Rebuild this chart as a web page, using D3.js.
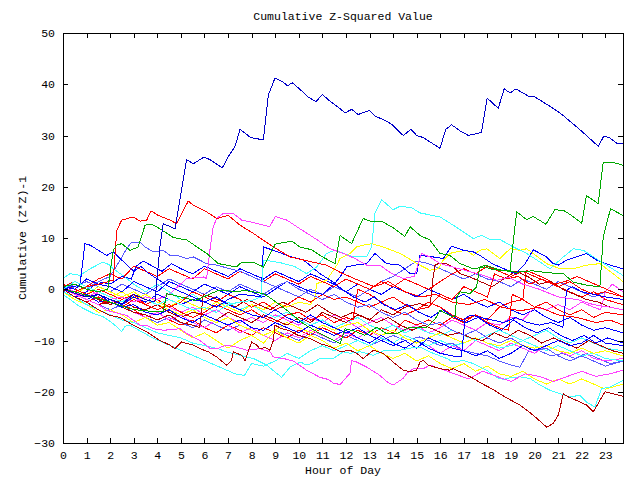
<!DOCTYPE html>
<html>
<head>
<meta charset="utf-8">
<script src="https://cdn.jsdelivr.net/npm/d3@7"></script>
<style>
  html, body { margin: 0; padding: 0; background: #fff; }
  svg { display: block; }
  text { font-family: "Liberation Mono", "DejaVu Sans Mono", monospace; font-size: 11.5px; fill: #000; }
</style>
</head>
<body>
<svg id="chart" width="640" height="480"></svg>
<script>
// ---- Chart text ----
const chartTitle = "Cumulative Z-Squared Value";
const xAxisTitle = "Hour of Day";
const yAxisTitle = "Cumulative (Z*Z)-1";

// ---- Axis ticks ----
const xTickValues = d3.range(0, 24);          // hours 0..23
const yTickValues = [-30, -20, -10, 0, 10, 20, 30, 40, 50];
const xDomain = [0, 23.75];
const yDomain = [-30, 50];

// ---- Series colours ----
const seriesColors = [
  "#0000c8", "#00a800", "#00a800", "#ff0000", "#ff40ff", "#40ffff",
  "#b00000", "#ff40ff", "#40ffff", "#0000ff", "#5858ff", "#0000ff",
  "#0000ff", "#0000ff", "#ff0000", "#ff0000", "#ff0000", "#b00000",
  "#b00000", "#ffff00", "#ffff00", "#ffff00", "#40ffff", "#40ffff",
  "#ff40ff", "#ff40ff", "#ff0000", "#0000ff", "#5858ff", "#5858ff"
];

// ---- Series values: [hour, cumulative value] vertices ----
const s01 = [[0,0],[0.5,-0.8],[1,-1.5],[1.5,-1],[2,-2],[2.5,-2.8],[3,-1],[3.5,-2],[3.9,-2.5],[4.11,8.25],[4.25,12.8],[4.75,11.8],[5.24,25.3],[5.53,24.5],[5.98,25.8],[6.23,25.3],[6.52,24.4],[6.76,23.7],[7.01,25.9],[7.29,27.8],[7.51,31.2],[7.93,29.7],[8.14,29.4],[8.5,29.2],[8.71,37.9],[8.82,39.2],[8.99,41.2],[9.27,40.6],[9.53,39.7],[9.72,40.3],[10.05,39.0],[10.4,37.5],[10.73,36.6],[11.0,38.0],[11.32,36.7],[11.68,35.5],[11.96,34.4],[12.24,35.1],[12.52,34.1],[12.99,34.9],[13.23,33.8],[13.72,32.8],[13.94,32.2],[14.43,30.0],[14.76,31.2],[15.0,30.0],[15.28,29.6],[15.99,27.5],[16.23,31.2],[16.48,32.1],[16.84,30.9],[17.19,30.0],[17.75,30.6],[17.99,37.3],[18.46,35.3],[18.71,39.1],[18.96,38.3],[19.21,39.1],[19.73,37.7],[20.02,37.5],[20.65,35.7],[21.08,34.4],[21.78,31.7],[22.2,30.0],[22.7,27.9],[22.94,29.9],[23.2,29.5],[23.48,28.5],[23.75,28.4]];
const s02 = [[0,0.5],[0.5,1],[1,0],[1.5,-0.5],[1.9,0],[2.13,7.6],[2.28,8.6],[2.49,8.9],[2.84,7.6],[3.19,8.25],[3.48,12.5],[3.76,12.7],[4.11,11.8],[4.68,10.1],[5.25,9.6],[6.09,7.0],[6.59,5.0],[7.36,4.35],[7.58,5.3],[8.07,5.3],[8.5,4.35],[9.0,8.8],[9.7,9.4],[10.05,8.25],[10.55,7.7],[10.97,6.4],[11.54,5.0],[11.75,10.5],[12.24,8.9],[12.73,13.8],[13.02,13.3],[13.51,13.3],[14.0,12.0],[14.5,10.3],[14.72,12.2],[15.14,10.5],[15.56,9.6],[15.99,7.0],[16.41,6.6],[16.84,5.0],[17.4,4.0],[17.89,4.35],[18.1,4.0],[18.53,3.7],[18.96,3.6],[19.24,15.1],[19.66,13.6],[19.94,14.2],[20.48,12.7],[20.86,15.5],[21.22,15.4],[21.57,14.4],[22.0,12.9],[22.2,18.3],[22.7,16.7],[22.91,24.8],[23.3,24.8],[23.75,24.2]];
const s03 = [[0,0],[0.5,-0.5],[1,-1.2],[1.5,-1.8],[2,-2.5],[2.84,-3.8],[3.4,-4.2],[4.25,-4.4],[4.4,-0.85],[5,-1.5],[5.6,-2.2],[6.1,-1.2],[6.6,-0.2],[7.2,-0.4],[7.8,-0.3],[8.5,-0.85],[8.92,-2.1],[9.49,-4.1],[10.19,-6.7],[10.9,-8.65],[11.75,-10.6],[11.96,-7.7],[12.45,-8.3],[12.8,-9.0],[13.3,-7.4],[13.72,-8.65],[14.15,-8.65],[14.72,-7.4],[15.42,-7.5],[15.85,-5.4],[15.99,-4.1],[16.48,-5.3],[16.62,-5.4],[16.7,-1.5],[16.84,-0.5],[17.26,-0.85],[17.54,0.45],[17.68,4.35],[17.9,4.7],[18.5,3.8],[19.2,3.3],[19.9,3.6],[20.6,3.2],[21.22,3.05],[21.64,1.4],[22.2,0.8],[22.77,0.45],[22.91,10.2],[23.22,15.7],[23.75,14.4]];
const s04 = [[0,0],[0.5,-0.5],[1,0.5],[1.5,1],[2.13,1.75],[2.28,11.5],[2.49,13.5],[2.98,14.1],[3.27,13.3],[3.55,13.5],[3.73,15.3],[4.04,14.4],[4.54,13.5],[4.82,12.8],[5.31,17.2],[5.53,16.4],[6.09,15.1],[6.52,13.8],[7.01,14.4],[7.51,12.5],[8.07,10.9],[8.92,8.25],[9.63,6.3],[10.3,5.6],[11.18,4.7],[11.8,3.2],[12.5,1.8],[13.2,0.5],[13.8,1.5],[14.5,-0.5],[15.2,-1.5],[15.8,-1],[16.5,-2.5],[17.2,-3],[17.9,-2],[18.6,-3.5],[19.4,-4.2],[20.2,-3.5],[21,-5],[21.8,-5.5],[22.6,-6.5],[23.2,-6],[23.75,-7]];
const s05 = [[0,0],[0.5,-1],[1,-1.5],[1.5,-1],[2,-2],[2.5,-1.5],[3,-2.5],[3.5,-1.5],[4,-2],[4.54,-0.85],[5.25,2.1],[5.95,2.4],[6.09,2.1],[6.23,7.6],[6.37,12.2],[6.52,13.8],[6.8,14.8],[7.22,14.8],[7.58,13.5],[8.0,13.1],[8.77,12.2],[9.0,14.2],[9.49,13.5],[10.05,11.8],[10.76,9.7],[11.32,7.9],[11.89,7.0],[12.38,6.0],[12.88,4.7],[13.44,4.7],[13.94,3.05],[14.43,2.1],[14.9,2.5],[15.2,7.0],[15.56,6.3],[16,5.0],[16.8,4.0],[17.83,2.7],[18.39,1.75],[18.9,2.3],[19.5,1],[20.2,0],[21,-1.5],[21.8,-2],[22.5,-3],[23.2,-3.5],[23.75,-4]];
const s06 = [[0,0],[0.5,1.5],[1,0.5],[1.5,-0.5],[2,-1.5],[2.5,-2.5],[3,-1],[3.5,-2],[4,-3],[4.5,-2],[5,-3],[5.5,-4],[6,-3.5],[6.5,-4.5],[7,-3],[7.5,-2.5],[8.0,-2.2],[8.4,-1.5],[8.5,5.7],[9.2,5.2],[9.8,4.5],[10.33,3.05],[10.76,4.35],[11.18,7.0],[11.54,7.6],[12.31,6.3],[12.88,6.4],[13.09,8.25],[13.23,14.8],[13.51,17.5],[14.0,15.5],[14.29,16.2],[14.79,15.9],[15.14,14.9],[15.99,14.1],[16.55,12.5],[17.4,9.9],[17.75,10.5],[18.1,9.7],[18.53,9.7],[19.1,8.25],[19.66,7.0],[20.23,5.3],[20.65,4.0],[21.22,6.3],[21.64,7.9],[22.07,7.6],[22.84,5.3],[23.75,2.7]];
const s07 = [[0,0],[0.5,-1.5],[1,-2.5],[1.5,-4],[2.0,-5.1],[2.42,-5.5],[2.98,-7.0],[3.55,-8.3],[4.11,-10.0],[4.54,-10.9],[4.75,-11.6],[5.03,-10.3],[5.25,-10.6],[5.53,-10.9],[5.81,-11.6],[6.16,-12.2],[6.52,-13.2],[6.94,-14.8],[7.15,-13.9],[7.22,-12.2],[7.58,-12.9],[7.72,-13.9],[8.0,-10.3],[8.21,-10.9],[8.35,-11.6],[8.57,-11.4],[8.78,-11.9],[8.92,-10.0],[8.99,-7.0],[9.27,-7.7],[9.55,-8.0],[9.98,-9.0],[10.47,-9.6],[10.9,-10.6],[11.4,-11.3],[11.75,-12.2],[12.17,-11.9],[12.45,-12.5],[12.73,-13.5],[13.16,-11.9],[13.58,-12.5],[14.0,-14.2],[14.43,-15.8],[14.72,-16.1],[15.0,-15.8],[15.14,-14.2],[15.28,-13.9],[15.49,-14.8],[15.99,-15.5],[16.41,-15.8],[16.55,-15.5],[16.98,-16.4],[17.4,-17.4],[17.76,-18.4],[18.18,-19.4],[18.74,-21.0],[19.38,-22.6],[19.95,-24.6],[20.51,-26.9],[20.79,-26.2],[21.0,-24.6],[21.22,-20.4],[21.43,-21.0],[21.78,-21.7],[22.21,-22.6],[22.49,-23.9],[22.77,-21.7],[22.99,-20.0],[23.34,-20.4],[23.75,-20.9]];
const s08 = [[0,0],[0.5,-1],[1,-2],[1.5,-3],[1.85,-4.1],[2.7,-5.1],[3.27,-7.0],[3.55,-7.0],[3.83,-7.7],[4.25,-8.0],[4.54,-7.9],[4.96,-7.7],[5.25,-8.65],[5.81,-10.0],[6.23,-11.5],[6.52,-11.6],[6.94,-10.9],[7.36,-11.3],[7.79,-11.9],[8.35,-11.6],[8.78,-12.2],[8.92,-13.2],[9.34,-13.5],[9.77,-14.0],[10.33,-15.8],[10.9,-17.2],[11.25,-17.6],[11.46,-18.3],[11.75,-18.6],[12.17,-16.4],[12.24,-13.9],[12.45,-14.2],[12.88,-15.2],[13.44,-16.8],[13.72,-18.0],[14.0,-18.7],[14.43,-17.4],[14.58,-16.4],[14.86,-15.5],[15.28,-15.5],[15.56,-14.8],[16.0,-15.5],[16.6,-16.5],[17.2,-17.5],[17.8,-16.0],[18.4,-17.0],[19.0,-18.0],[19.6,-16.5],[20.2,-17.0],[20.8,-18.0],[21.4,-17.0],[22.0,-16.0],[22.6,-17.0],[23.2,-16.5],[23.75,-15.8]];
const s09 = [[0,-0.5],[0.5,-1.5],[1,-3],[1.5,-4],[2,-5],[2.5,-6],[3,-6.5],[3.5,-7.5],[4,-8.5],[4.5,-9],[5,-9.5],[5.5,-10.5],[6,-11],[6.5,-11.5],[7,-12.3],[7.51,-12.9],[8.07,-13.5],[8.64,-14.8],[9.27,-17.2],[9.63,-15.2],[9.91,-14.5],[10.12,-14.2],[10.26,-14.8],[10.55,-14.5],[10.9,-13.5],[11.46,-13.5],[11.89,-12.2],[12.17,-12.5],[12.6,-12.2],[13.16,-12.9],[13.65,-11.9],[14.2,-12.0],[14.7,-11.5],[15.14,-11.3],[15.7,-12.5],[16.27,-13.5],[16.55,-14.2],[16.98,-13.9],[17.4,-14.5],[17.97,-15.8],[18.39,-17.2],[18.67,-17.6],[19.03,-17.2],[19.38,-17.1],[19.8,-17.4],[20.23,-18.7],[20.65,-19.7],[21.08,-20.4],[21.5,-21.0],[21.92,-20.7],[22.2,-22.0],[22.56,-23.0],[22.84,-19.4],[23.2,-19.1],[23.75,-17.8]];
const s10 = [[0,0],[0.4,0.5],[0.72,0.8],[0.93,8.9],[1.15,8.6],[1.5,7.6],[1.85,6.6],[2.13,7.3],[2.35,6.3],[2.7,4.8],[3.0,3.5],[3.3,4.5],[3.6,3.2],[4.0,2],[4.5,0.5],[5,-0.5],[5.5,-1.5],[6,-2.5],[6.5,-1.5],[7,-3],[7.5,-4],[8,-5],[8.5,-5.5],[9,-4],[9.5,-5.5],[10,-6.5],[10.5,-5],[11,-6.5],[11.5,-7.5],[12,-8.5],[12.5,-7.5],[13,-9],[13.5,-10],[14,-11],[14.5,-10],[15,-11.5],[15.5,-9.5],[16,-10.5],[16.5,-11.5],[17,-12],[17.5,-13],[18,-12],[18.5,-13.5],[19,-12.5],[19.5,-11],[20,-12],[20.5,-11],[21,-10],[21.5,-11],[22,-10.5],[22.5,-9],[23,-10.5],[23.75,-11]];
const s11 = [[0,0],[0.5,1],[1,0],[1.5,1.5],[2,2.5],[2.42,5.7],[2.7,7.9],[2.91,9.2],[3.27,9.2],[3.48,8.25],[3.83,7.3],[4.25,7.6],[4.54,6.6],[4.82,6.6],[5.25,6.0],[5.53,6.3],[6.09,5.0],[6.52,4.7],[7.08,4.0],[7.58,3.4],[8,2.5],[8.5,1.5],[9,0.5],[9.5,1.5],[10,0],[10.5,-1],[11,-2],[11.5,-1],[12,-2.5],[12.5,-3.5],[13,-3],[13.5,-4.5],[14,-5.5],[14.5,-4.5],[15,-6],[15.5,-7],[16,-6.5],[16.5,-8],[17,-9],[17.5,-8],[18,-9.5],[18.5,-10.5],[19,-9.5],[19.5,-11],[20,-12],[20.5,-11.5],[21,-13],[21.5,-14],[22,-13],[22.5,-14],[23,-15],[23.75,-14]];
const s12 = [[0,-0.5],[0.5,-1.5],[1,-1],[1.5,-2.5],[2,-2],[2.5,-3],[3,-1.5],[3.5,-2.5],[4,-1],[4.5,-2],[5,-3],[5.5,-2],[6,-2.5],[6.5,-3.5],[7,-2],[7.5,-1],[8,-1.2],[8.4,-1.5],[8.5,8.25],[8.92,7.6],[9.63,6.4],[10.19,5.7],[10.47,4.7],[10.9,3.05],[11.46,1.4],[11.89,-0.2],[12.31,-1.5],[12.8,-2.5],[13.2,-1.5],[13.6,-3],[14.1,-4],[14.6,-3],[15.1,-4.5],[15.6,-5.5],[16.1,-4],[16.6,-5.5],[17.1,-6.5],[17.6,-5.5],[18.1,-7],[18.6,-8],[19.1,-6],[19.6,-7.5],[20.1,-8.5],[20.6,-7.5],[21.1,-9],[21.6,-10],[22.1,-9],[22.6,-10.5],[23.1,-9.5],[23.75,-10.5]];
const s13 = [[0,0.5],[0.5,0],[1,2],[1.5,1],[2,0.5],[2.5,-0.5],[3,1.5],[3.5,0.5],[4,-0.5],[4.5,1.5],[5,0.5],[5.5,-0.5],[6,1],[6.5,0],[7,-1],[7.5,0.5],[8,-0.5],[8.5,-1.5],[9,0],[9.5,1.5],[10,0.5],[10.5,-0.5],[11,-1],[11.5,1],[11.75,2.4],[12.03,4.35],[12.38,4.7],[12.88,5.0],[13.23,7.0],[13.72,5.0],[14.29,4.7],[14.72,3.05],[15.0,3.0],[15.14,6.6],[15.7,6.3],[16.13,6.0],[16.48,8.4],[16.98,7.6],[17.4,7.3],[17.68,6.6],[18.2,5],[18.7,4],[19.2,3],[19.6,5],[19.94,7.7],[20.23,7.0],[20.51,6.3],[20.79,5.0],[21.0,4.7],[21.36,5.7],[21.78,6.3],[22.2,7.0],[22.63,5.7],[23.2,4.7],[23.75,4.0]];
const s14 = [[0,0],[0.5,-1],[1,-2],[1.5,-1],[2,-2.5],[2.5,-3.5],[3,-3],[3.5,-4.5],[4,-5],[4.5,-4],[5,-5.5],[5.5,-6.5],[6,-5],[6.5,-6],[7,-7],[7.5,-6],[8,-7.5],[8.5,-8],[9,-6.5],[9.5,-7.5],[10,-8.5],[10.5,-7],[11,-8],[11.5,-9],[12,-8],[12.5,-9.5],[13,-10.5],[13.5,-9],[14,-10.5],[14.5,-11.5],[15,-10],[15.5,-11.5],[16,-12.5],[16.5,-13],[16.9,-13.2],[17.05,-5.7],[17.3,-5],[17.7,-5.5],[18.2,-6],[18.7,-6.5],[19.2,-5.5],[19.7,-6.5],[20.2,-7],[20.7,-6.5],[21.2,-7.4],[21.36,-0.2],[21.6,0.5],[22,-0.5],[22.5,-1],[23,-1.5],[23.75,-2]];
const s15 = [[0,1],[0.5,0],[1,-1],[1.5,0],[2,-1],[2.5,-2],[3,-1],[3.5,-3],[4,-2],[4.5,-3.5],[5,-2.5],[5.5,-0.5],[6,-1.5],[6.5,-2.5],[7,-1],[7.5,-2],[8,-3.5],[8.5,-2.5],[9,-4],[9.5,-3],[10,-1.5],[10.5,-2.5],[11,-1],[11.5,-2],[12,-1.5],[12.5,-2.5],[13,-3.5],[13.5,-2.5],[14,-4],[14.5,-5],[15,-4],[15.5,-3.5],[16,-1],[16.5,-2],[17,0.5],[17.5,-0.5],[18,-1.5],[18.3,3],[18.8,2],[19.3,2.5],[19.8,1],[20.3,2],[20.8,1],[21.3,1.5],[21.8,2.5],[22.3,1.5],[22.8,0.5],[23.3,-0.5],[23.75,-1.5]];
const s16 = [[0,0.5],[0.5,1.5],[1,0.5],[1.5,2],[2,3],[2.5,2],[3,4.5],[3.5,3.5],[4,2.5],[4.5,4],[5,3],[5.5,2],[6,4],[6.5,3],[7,2],[7.5,3.5],[8,2.5],[8.5,1.5],[9,3],[9.5,2],[10,1],[10.5,2.5],[11,1.5],[11.5,0.5],[12,2],[12.5,1],[13,0],[13.5,1.5],[14,0.5],[14.5,2],[15,1],[15.5,0],[16,1.5],[16.5,3],[17,4],[17.5,3],[18,4.5],[18.5,3.5],[19,2.5],[19.5,3.5],[20,2.5],[20.5,1.5],[21,0.5],[21.5,1.5],[22,0],[22.5,-1],[23,-0.5],[23.75,-1.5]];
const s17 = [[0,-0.5],[0.5,-1.5],[1,-2.5],[1.5,-1.5],[2,-2.5],[2.5,-3.5],[3,-2],[3.5,-3],[4,-4],[4.5,-3],[5,-4.5],[5.5,-5.5],[6,-4.5],[6.5,-3],[7,-4],[7.5,-5],[8,-4],[8.5,-5.5],[9,-6.5],[9.5,-5],[10,-4.5],[10.5,-6],[11,-5],[11.5,-6.5],[12,-5.5],[12.3,-6],[12.5,0],[13,-1],[13.5,-2.5],[14,-1.5],[14.5,-3],[15,-4],[15.5,-2.5],[16,-3.5],[16.5,-5],[17,-6],[17.5,-5],[18,-6.5],[18.5,-7.5],[18.9,-8],[19.05,-1],[19.5,-2],[20,-3.5],[20.5,-2.5],[21,-4],[21.5,-5],[22,-4],[22.5,-5.5],[23,-4.5],[23.75,-5]];
const s18 = [[0,-0.5],[0.5,-1.5],[1,-1],[1.5,-2],[2,-3],[2.5,-2],[3,-3.5],[3.5,-4],[4,-3],[4.5,-4.5],[5,-5.5],[5.5,-4.5],[6,-5],[6.5,-6],[7,-4.5],[7.5,-5.5],[8,-6.5],[8.5,-5],[9,-6],[9.5,-7],[10,-5.5],[10.5,-6.5],[11,-4.5],[11.5,-5.5],[12,-6.5],[12.5,-5],[13,-6],[13.5,-4],[14,-5],[14.5,-3.5],[15.14,-2.8],[15.56,-3.4],[15.7,2.4],[15.78,4.7],[15.92,5.0],[16.27,5.0],[16.55,4.35],[16.84,3.05],[17.26,2.4],[17.7,1.5],[18.2,0.5],[18.7,2],[19.2,3.5],[19.7,2.5],[20.2,1],[20.7,1.5],[21.2,0],[21.7,-1],[22.2,-2],[22.7,-2.5],[23.2,-3.5],[23.75,-4]];
const s19 = [[0,0],[0.5,-1],[1,-2],[1.5,-3],[2,-2.5],[2.5,-3.5],[3,-4.5],[3.5,-5],[4,-6],[4.5,-5],[5,-6.5],[5.5,-7],[5.8,-7.5],[5.95,-1],[6.3,-1.5],[6.8,-2.5],[7.3,-3.5],[7.8,-2],[8.3,-3],[8.8,-4],[9.3,-2.5],[9.8,-3.5],[10.3,-4.5],[10.8,-3],[11.3,-4.5],[11.8,-5.5],[12.3,-4.5],[12.8,-5.5],[13.3,-6.5],[13.8,-5.5],[14.3,-7],[14.8,-8],[15.3,-7],[15.8,-8],[16.3,-9],[16.8,-8.5],[17.3,-9.5],[17.8,-10],[18.3,-8.5],[18.8,-9.5],[19.3,-8],[19.8,-9],[20.3,-10.5],[20.8,-9.5],[21.3,-10.5],[21.8,-11.5],[22.3,-10],[22.8,-11],[23.3,-12],[23.75,-12.5]];
const s20 = [[0,0],[0.5,-1],[1,0.5],[1.5,-0.5],[2,-1.5],[2.5,-0.5],[3,-2],[3.5,-1],[4,-2.5],[4.5,-3.5],[5,-2],[5.5,-3],[6,-4],[6.5,-2.5],[7,-3.5],[7.5,-4.5],[8,-3],[8.5,-4],[9,-2.5],[9.5,-3.5],[10,-2.5],[10.5,-3],[10.69,-1.5],[10.76,1.1],[11.18,1.75],[11.61,4.7],[11.75,6.0],[12.17,7.0],[12.45,8.25],[12.73,8.6],[13.09,8.9],[13.58,8.25],[14.29,7.0],[15.14,4.7],[15.56,3.7],[15.92,4.0],[16.13,5.7],[16.41,7.0],[16.69,7.3],[17.12,7.6],[17.4,6.6],[17.68,7.6],[17.97,7.9],[18.53,6.0],[18.96,7.9],[19.38,7.6],[19.66,7.9],[19.94,7.0],[20.51,5.0],[21.08,4.0],[21.64,4.0],[22.2,4.7],[22.77,5.0],[23.2,3.5],[23.75,1.5]];
const s21 = [[0,-0.5],[0.5,-2],[1,-3],[1.5,-4.5],[2,-4],[2.5,-5],[3,-6.5],[3.5,-5.5],[4,-7],[4.5,-6.5],[5,-8],[5.5,-9.5],[6,-8.5],[6.5,-10],[7,-11.5],[7.5,-10],[8,-9],[8.5,-10.5],[9,-8],[9.5,-9.5],[10,-10.5],[10.5,-9],[11,-10],[11.5,-11.5],[12,-10.5],[12.5,-12],[13,-11],[13.5,-12.5],[14,-13.5],[14.5,-12.5],[15,-14],[15.5,-13],[16,-14.5],[16.5,-15.5],[17,-14.5],[17.5,-16],[18,-15],[18.5,-16.5],[19,-17],[19.5,-16],[20,-17.5],[20.5,-18.5],[21,-17.5],[21.5,-18.5],[22,-17.5],[22.5,-18.5],[23,-19.5],[23.75,-18.5]];
const s22 = [[0,1],[0.5,0],[1,-1],[1.5,0.5],[2,-0.5],[2.5,-1.5],[3,-0.5],[3.5,-2],[4,-3],[4.5,-4],[5,-5],[5.5,-4],[6,-5.5],[6.5,-6.5],[7,-5.5],[7.5,-7],[8,-8],[8.5,-9],[9,-8],[9.5,-6.5],[10,-7.5],[10.5,-8.5],[11,-7],[11.5,-8],[12,-7],[12.5,-6.5],[13,-8],[13.5,-9],[14,-8],[14.5,-9.5],[15,-10.5],[15.5,-9.5],[16,-8.5],[16.5,-9.5],[17,-10.5],[17.5,-9.5],[18,-10.5],[18.5,-11],[19,-10],[19.5,-11],[20,-11.5],[20.5,-11],[21,-12],[21.5,-12.5],[22,-11.5],[22.5,-12.5],[23,-12],[23.75,-13]];
const s23 = [[0,-1],[0.3,-2],[0.72,-3.4],[1.28,-4.7],[1.71,-5.4],[2.13,-6.7],[2.49,-8.3],[2.63,-7.2],[2.84,-7.0],[3.3,-8.2],[3.8,-9.5],[4.3,-10.5],[4.8,-11.5],[5.3,-12.5],[5.8,-13.5],[6.3,-14.5],[6.8,-15.5],[7.3,-16.5],[7.7,-16.8],[8.0,-14.5],[8.5,-15],[9,-14],[9.5,-12.5],[10,-13.5],[10.5,-12],[11,-11],[11.5,-12],[12,-11],[12.5,-10],[13,-11],[13.5,-9.5],[14,-10.5],[14.5,-9],[15,-10],[15.5,-11],[16,-10],[16.5,-11],[17,-10.5],[17.5,-9.5],[18,-10.5],[18.5,-11.5],[19,-11],[19.5,-10],[20,-11],[20.5,-12],[21,-11],[21.5,-12],[22,-13],[22.5,-12.5],[23,-13.5],[23.75,-14]];
const s24 = [[0,2.1],[0.3,3.05],[0.72,2.7],[1.15,4.0],[1.57,5.0],[1.71,5.3],[1.99,4.7],[2.13,4.0],[2.6,2.5],[3,1],[3.5,-0.5],[4,1],[4.5,-0.5],[5,-2],[5.5,-1],[6,-2.5],[6.5,-3.5],[7,-2.5],[7.5,-4],[8,-3],[8.5,-4.5],[9,-5.5],[9.5,-4.5],[10,-6],[10.5,-7],[11,-6],[11.5,-7.5],[12,-6.5],[12.5,-5.5],[13,-7],[13.5,-8],[14,-7],[14.5,-8.5],[15,-7.5],[15.5,-8.5],[16,-9],[16.5,-8],[17,-9],[17.5,-10],[18,-9],[18.5,-8],[19,-9],[19.5,-10],[20,-9],[20.5,-8],[21,-9.5],[21.5,-10.5],[22,-9.5],[22.5,-10.5],[23,-11.5],[23.75,-12]];
const s25 = [[0,0],[0.5,1],[1,0],[1.5,-1],[2,-2],[2.5,-3.5],[3,-4.5],[3.5,-5.5],[4,-4.5],[4.5,-6],[5,-5],[5.5,-6.5],[6,-7.5],[6.5,-6],[7,-7],[7.5,-8.5],[8,-7.5],[8.5,-9],[9,-10],[9.5,-8.5],[10,-9.5],[10.5,-8],[11,-9],[11.5,-10],[12,-8.5],[12.5,-9.5],[13,-8],[13.5,-9.5],[14,-10.5],[14.5,-11.5],[15,-10],[15.5,-11],[16,-12.5],[16.5,-11],[17,-12],[17.5,-10],[18,-11],[18.5,-12],[19,-10.5],[19.5,-11.5],[20,-12.5],[20.5,-11],[21,-12],[21.5,-13],[22,-12],[22.5,-13.5],[23,-14],[23.75,-13.5]];
const s26 = [[0,0.5],[0.5,-0.5],[1,-1.5],[1.5,-0.5],[2,-1.5],[2.5,-2.5],[3,-1.5],[3.5,-3],[4,-2],[4.5,-3.5],[5,-4.5],[5.5,-3.5],[6,-5],[6.5,-4],[7,-5.5],[7.5,-6.5],[8,-5.5],[8.5,-6.5],[9,-5],[9.5,-6],[10,-7],[10.5,-5.5],[11,-6.5],[11.5,-5],[12,-6],[12.5,-7.5],[13,-6.5],[13.5,-5.5],[14,-7],[14.5,-8],[15,-7],[15.5,-8.5],[16,-7.5],[16.5,-6],[17,-7],[17.5,-8],[18,-6.5],[18.5,-7],[19,-5.5],[19.5,-6],[20,-3.5],[20.5,-4],[21,-3],[21.5,-4],[22,-2.5],[22.5,-3.5],[22.8,-4],[23,-0.5],[23.3,1],[23.75,-0.5]];
const s27 = [[0,0],[0.5,-1],[1,-2],[1.5,-3],[2,-2],[2.5,-3],[3,-4],[3.5,-5.5],[4,-4.5],[4.5,-6],[5,-7],[5.5,-6],[6,-7.5],[6.5,-8.5],[7,-7],[7.5,-8],[8,-9],[8.5,-7.5],[9,-8.5],[9.5,-9.5],[10,-8],[10.5,-9],[11,-7.5],[11.5,-8.5],[12,-9.5],[12.5,-8],[13,-9],[13.5,-7.5],[14,-8.5],[14.5,-6],[15,-7],[15.5,-6],[16,-7],[16.5,-5.5],[17,-6.5],[17.5,-5],[18,-6],[18.5,-3.5],[19,-2.5],[19.5,-2],[19.65,3.7],[20,3],[20.5,2],[21,0.5],[21.5,-0.5],[22,-1.5],[22.5,-0.5],[23,-2],[23.75,-3]];
const s28 = [[0,0],[0.5,-1],[1,-0.5],[1.5,1.5],[2,1],[2.5,2.5],[2.9,2],[3.1,4.5],[3.4,5.5],[3.8,4.5],[4.2,3.5],[4.6,5],[5.0,4],[5.5,3],[6,4.5],[6.5,3.5],[7,2.5],[7.5,4],[8,3],[8.5,2],[9,3.5],[9.5,2.5],[10,1.5],[10.5,3],[11,2],[11.5,1],[12,-0.5],[12.5,1],[13,0],[13.5,-1],[14,0.5],[14.5,-0.5],[15,-1.5],[15.5,0],[16,-1],[16.5,-2],[17,-1],[17.5,-2.5],[18,-3.5],[18.5,-2.5],[19,-4],[19.5,-5],[20,-4],[20.5,-5.5],[21,-6.5],[21.5,-5.5],[22,-7],[22.5,-8],[23,-7.5],[23.75,-8.5]];
const s29 = [[0,0],[0.5,-1],[1,-2],[1.5,-3],[2,-4],[2.5,-3],[3,-4.5],[3.5,-5.5],[4,-6.5],[4.5,-5.5],[5,-6.5],[5.5,-7.5],[6,-6],[6.5,-7],[7,-8],[7.5,-7],[8,-8],[8.5,-9],[9,-8],[9.5,-9],[10,-10],[10.5,-8.5],[11,-9.5],[11.5,-10.5],[12,-9],[12.5,-10],[13,-11],[13.5,-10],[14,-9],[14.5,-10],[15.14,-9.3],[15.5,-10],[16,-11],[16.5,-10.5],[17,-12],[17.5,-12.5],[18,-13],[18.5,-14],[19,-14.8],[19.38,-15.2],[19.8,-11.6],[20.2,-12],[20.7,-13],[21.2,-12.5],[21.7,-13.5],[22.2,-12.5],[22.7,-13.5],[23.2,-14.5],[23.75,-14]];
const s30 = [[0,-0.5],[0.5,0.5],[1,1.5],[1.5,0.5],[2,-0.5],[2.5,1],[3,0],[3.5,-1],[4,0.5],[4.5,2],[5,1],[5.5,0],[6,-1],[6.5,0.5],[7,-0.5],[7.5,1],[8,0],[8.5,-1],[9,0.5],[9.5,-0.5],[10,-1.5],[10.5,0],[11,-1],[11.5,0.5],[12,-0.5],[12.5,-1.5],[13,0],[13.5,1.5],[14,2.5],[14.5,4],[15,5.5],[15.5,5],[16,4],[16.5,3],[17,2],[17.5,3],[18,2],[18.5,1.5],[19,0.5],[19.5,2],[20,1],[20.5,0],[21,1.5],[21.5,0.5],[22,-0.5],[22.5,-1.5],[23,-0.5],[23.75,-1.5]];

const seriesList = [s01,s02,s03,s04,s05,s06,s07,s08,s09,s10,s11,s12,s13,s14,s15,
                    s16,s17,s18,s19,s20,s21,s22,s23,s24,s25,s26,s27,s28,s29,s30];

// ---- Layout ----
const plot = { left: 63, right: 623, top: 33, bottom: 443 };
const svg = d3.select("#chart");

const x = d3.scaleLinear().domain(xDomain).range([plot.left, plot.right]);
const y = d3.scaleLinear().domain(yDomain).range([plot.bottom, plot.top]);

svg.append("defs").append("clipPath").attr("id", "plotclip")
  .append("rect").attr("x", plot.left).attr("y", plot.top)
  .attr("width", plot.right - plot.left).attr("height", plot.bottom - plot.top);

const line = d3.line().x(d => x(d[0])).y(d => y(d[1]));
const order = d3.range(seriesList.length).reverse();
svg.append("g").attr("clip-path", "url(#plotclip)")
  .selectAll("path").data(order).join("path")
  .attr("d", i => line(seriesList[i]))
  .attr("fill", "none")
  .attr("stroke", i => seriesColors[i])
  .attr("stroke-width", 1)
  .attr("shape-rendering", "crispEdges");

function styleAxis(g) {
  g.select(".domain").remove();
  g.selectAll(".tick line").attr("stroke", "#000").attr("shape-rendering", "crispEdges");
  g.selectAll(".tick text").attr("fill", "#000")
    .style("font-family", '"Liberation Mono", "DejaVu Sans Mono", monospace')
    .style("font-size", "11.5px");
}
svg.append("g").attr("transform", `translate(0,${plot.bottom})`)
  .call(d3.axisBottom(x).tickValues(xTickValues).tickSize(-5).tickPadding(8).tickFormat(d3.format("d")))
  .call(styleAxis);
svg.append("g").attr("transform", `translate(0,${plot.top})`)
  .call(d3.axisTop(x).tickValues(xTickValues).tickSize(-5).tickFormat(""))
  .call(styleAxis);
svg.append("g").attr("transform", `translate(${plot.left},0)`)
  .call(d3.axisLeft(y).tickValues(yTickValues).tickSize(-5).tickPadding(8).tickFormat(d3.format("d")))
  .call(styleAxis);
svg.append("g").attr("transform", `translate(${plot.right},0)`)
  .call(d3.axisRight(y).tickValues(yTickValues).tickSize(-5).tickFormat(""))
  .call(styleAxis);

svg.append("rect")
  .attr("x", plot.left + 0.5).attr("y", plot.top + 0.5)
  .attr("width", plot.right - plot.left).attr("height", plot.bottom - plot.top)
  .attr("fill", "none").attr("stroke", "#000").attr("stroke-width", 1);

svg.append("text").attr("x", 343).attr("y", 20).attr("text-anchor", "middle").text(chartTitle);
svg.append("text").attr("x", 343).attr("y", 474).attr("text-anchor", "middle").text(xAxisTitle);
svg.append("text").attr("transform", "translate(26,238) rotate(-90)")
  .attr("text-anchor", "middle").text(yAxisTitle);
</script>
</body>
</html>
